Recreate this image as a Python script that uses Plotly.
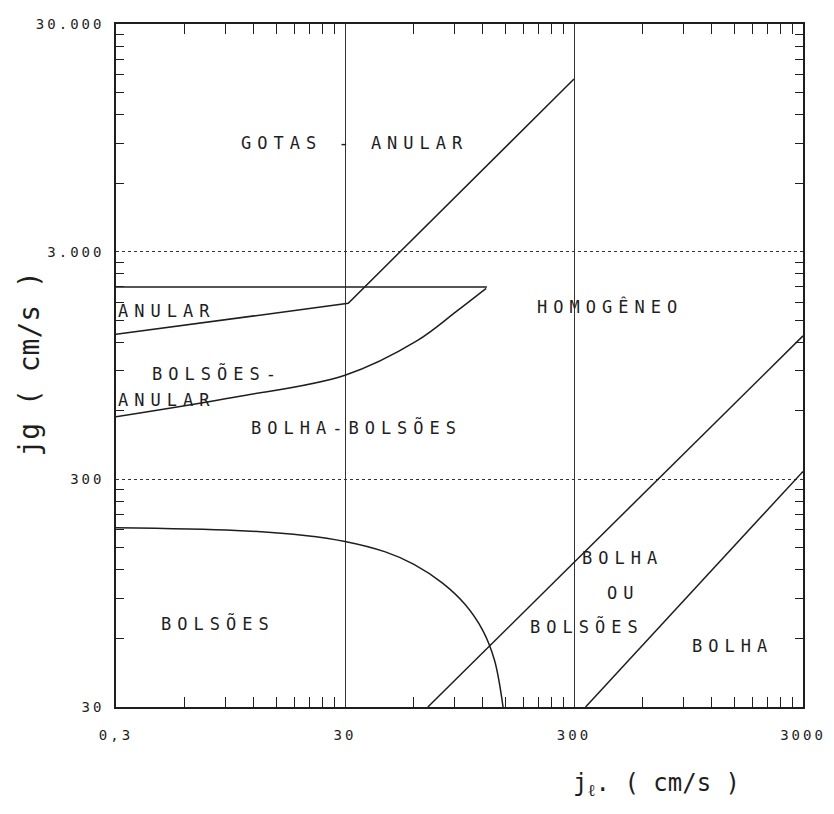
import numpy as np
import plotly.graph_objects as go

# ---- data (cm/s) ----
x_ticks = [3, 30, 300, 3000]
x_ticktext = ["0,3", "30", "300", "3000"]
y_ticks = [30, 300, 3000, 30000]
y_ticktext = ["30", "300", "3.000", "30.000"]

anular_top_x = [3, 125]
anular_top_y = [2100, 2100]

anular_low_x = [3, 31, 300]
anular_low_y = [1300, 1780, 17200]

bolsoes_anular_x = [3, 10, 30, 62, 92, 124]
bolsoes_anular_y = [565, 690, 860, 1220, 1640, 2070]

bolsoes_x = [3, 10, 20, 30, 45, 60, 80, 100, 120, 135, 147]
bolsoes_y = [184, 179, 170, 160, 144, 127, 105, 85, 65, 48, 30]

bolha_ou_x = [69, 3000]
bolha_ou_y = [30, 1280]

bolha_x = [337, 3000]
bolha_y = [30, 325]

labels = ["GOTAS - ANULAR", "ANULAR", "BOLSÕES-", "ANULAR", "BOLHA-BOLSÕES",
          "HOMOGÊNEO", "BOLSÕES", "BOLHA", "OU", "BOLSÕES", "BOLHA"]
label_x = [33, 5.0, 8.3, 5.0, 33.7, 430, 8.4, 490, 490, 342, 1478]
label_y = [9020, 1645, 875, 668, 509, 1730, 70, 135, 95, 68, 55.6]

FONT = "DejaVu Sans Mono"
INK = "#1e1e1e"


def spaced(t, px):
    return '<span style="letter-spacing:%dpx">%s</span>' % (px, t)


fig = go.Figure()
for xs, ys, shape in [(anular_top_x, anular_top_y, "linear"),
                      (anular_low_x, anular_low_y, "linear"),
                      (bolsoes_anular_x, bolsoes_anular_y, "spline"),
                      (bolsoes_x, bolsoes_y, "spline"),
                      (bolha_ou_x, bolha_ou_y, "linear"),
                      (bolha_x, bolha_y, "linear")]:
    fig.add_trace(go.Scatter(x=xs, y=ys, mode="lines",
                             line=dict(color=INK, width=1.5, shape=shape),
                             showlegend=False, hoverinfo="skip"))

for t, x, y in zip(labels, label_x, label_y):
    fig.add_annotation(x=np.log10(x), y=np.log10(y), text=spaced(t, 6),
                       showarrow=False, xanchor="center", yanchor="middle",
                       font=dict(family=FONT, size=17, color=INK))

# minor ticks at 2..9 x each cycle start (cycles begin at 3, 30, 300 ...)
x_minor = [c * k for c in [3, 30, 300] for k in range(2, 10)]
y_minor = [c * k for c in [30, 300, 3000] for k in range(2, 10)]

fig.update_xaxes(type="log", range=[np.log10(3), np.log10(3000)],
                 tickmode="array", tickvals=x_ticks,
                 ticktext=[spaced(t, 3) for t in x_ticktext],
                 ticks="", showline=True, linecolor=INK, linewidth=1.5,
                 mirror="allticks", showgrid=True, gridcolor="#333", gridwidth=1,
                 tickfont=dict(family=FONT, size=14, color=INK),
                 ticklabelstandoff=14, zeroline=False,
                 minor=dict(tickmode="array", tickvals=x_minor, ticks="inside",
                            ticklen=10, tickcolor=INK, tickwidth=1.2,
                            showgrid=False))
fig.update_yaxes(type="log", range=[np.log10(30), np.log10(30000)],
                 tickmode="array", tickvals=y_ticks,
                 ticktext=[spaced(t, 3) for t in y_ticktext],
                 ticks="", showline=True, linecolor=INK, linewidth=1.5,
                 mirror="allticks", showgrid=True, gridcolor="#333", gridwidth=1,
                 griddash="dot",
                 tickfont=dict(family=FONT, size=14, color=INK),
                 ticklabelstandoff=7, zeroline=False,
                 minor=dict(tickmode="array", tickvals=y_minor, ticks="inside",
                            ticklen=8, tickcolor=INK, tickwidth=1.2,
                            showgrid=False))

fig.add_annotation(xref="paper", yref="paper", x=-0.126, y=0.502,
                   xanchor="center", yanchor="middle",
                   text="jg ( cm/s )", textangle=-90, showarrow=False,
                   font=dict(family=FONT, size=28, color=INK))
fig.add_annotation(xref="paper", yref="paper", x=0.787, y=-0.113,
                   xanchor="center", yanchor="middle",
                   text="j<sub>ℓ</sub>. ( cm/s )", showarrow=False,
                   font=dict(family=FONT, size=24, color=INK))

# page body has an 8px margin: shrink the figure so the plot lands where the reference has it
fig.update_layout(width=826, height=806,
                  margin=dict(l=108, r=29, t=8, b=107),
                  paper_bgcolor="white", plot_bgcolor="white")

fig.write_html("out.html")
